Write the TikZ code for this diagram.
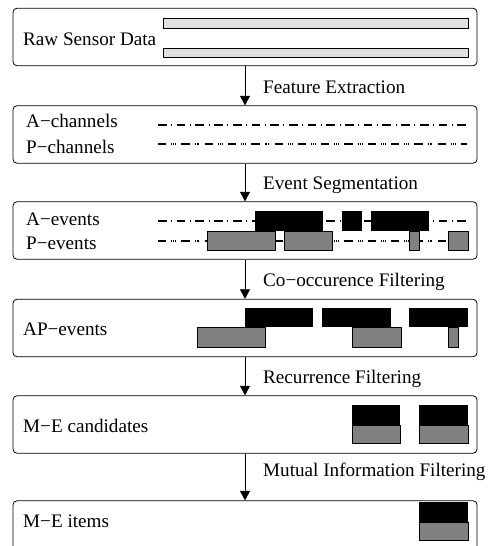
\documentclass[tikz,border=0pt]{standalone}
\usepackage{fontspec}
\setmainfont{Liberation Serif}
\usetikzlibrary{arrows.meta}
\definecolor{sensor}{HTML}{E0E0E0}
\definecolor{pevent}{HTML}{808080}
\tikzset{stage/.style={black,draw=black,line width=0.8pt,rounded corners=4pt,rectangle,minimum width=464pt,minimum height=57.5pt}}
\tikzset{stagetext/.style={anchor=base west,inner sep=0pt}}
\tikzset{achan/.style={line width=2pt,dash pattern=on 8.7pt off 4.5pt on 1pt off 4.5pt}}
\tikzset{pchan/.style={line width=2pt,dash pattern=on 8.3pt off 5pt on 0.7pt off 1.2pt on 0.7pt off 1.2pt on 0.7pt off 5.5pt}}
\tikzset{sensor/.style={draw=black,line width=0.8pt,fill=sensor}}
\tikzset{aevent/.style={fill=black}}
\tikzset{pevent/.style={draw=black,line width=0.8pt,fill=pevent}}

\begin{document}
\begin{tikzpicture}[x=1pt,y=-1pt,>={Triangle[length=9.5pt,width=10pt]},
  every node/.style={font=\fontsize{19.15}{23}\selectfont}]
            \useasboundingbox (0,0) rectangle (493,546);
            \clip (0,0) rectangle (493,546);

            % stages
            \node[stage] (raw) at (245,37) {};
            \node[stage] (channels) at (245,134.5) {};
            \node[stage] (events) at (245,230.5) {};
            \node[stage] (apevents) at (245,328) {};
            \node[stage] (candidates) at (245,424.5) {};
            \node[stage] (items) at (245,529.5) {};

            \node[stagetext] (rawtext) at (23,45) {Raw Sensor Data};
            \node[stagetext] (achantext) at (26,127) {A−channels};
            \node[stagetext] (pchantext) at (26,153) {P−channels};
            \node[stagetext] (aeventtext) at (26,225) {A−events};
            \node[stagetext] (peventtext) at (26,249) {P−events};
            \node[stagetext] (apeventtext) at (23,335) {AP−events};
            \node[stagetext] (candtext) at (23,432) {M−E candidates};
            \node[stagetext] (itemtext) at (23,527) {M−E items};

            % raw data
            \draw[sensor] (163,18) rectangle (468,28);
            \draw[sensor] (163,48) rectangle (468,57);

            % channels
            \draw[achan] (158,124.5) -- (467,124.5);
            \draw[pchan] (158,144) -- (467,144);

            % events
            \draw[achan] (158,221) -- (467,221);
            \draw[pchan] (158,241) -- (467,241);
            \foreach \a/\b in {255/323,342/362,371/429}
              \fill[aevent] (\a,211) rectangle (\b,231);
            \foreach \a/\b in {207/275,284/332,409/419,448/468}
              \draw[pevent] (\a,231) rectangle (\b,250);

            % AP-events
            \foreach \a/\b in {245/313,322/391,409/468}
              \fill[aevent] (\a,308) rectangle (\b,327);
            \foreach \a/\b in {197/265,352/401,448/458}
              \draw[pevent] (\a,327) rectangle (\b,347);

            % candidates and items
            \foreach \a/\b in {352/400,419/468} {
              \fill[aevent] (\a,405) rectangle (\b,425);
              \draw[pevent] (\a,425) rectangle (\b,443);
            }
            \fill[aevent] (419,502) rectangle (468,522);
            \draw[pevent] (419,522) rectangle (468,540);

            % steps
            \draw[->] (raw) -- (channels);
            \draw[->] (channels) -- (events);
            \draw[->] (events) -- (apevents);
            \draw[->] (apevents) -- (candidates);
            \draw[->] (candidates) -- (items);
            \node[stagetext] (extraction) at (263,93) {Feature Extraction};
            \node[stagetext] (segmentation) at (263,189) {Event Segmentation};
            \node[stagetext] (cooccurence) at (263,286) {Co−occurence Filtering};
            \node[stagetext] (recurrence) at (263,383) {Recurrence Filtering};
            \node[stagetext] (mutual) at (263,476) {Mutual Information Filtering};
            \end{tikzpicture}
\end{document}
